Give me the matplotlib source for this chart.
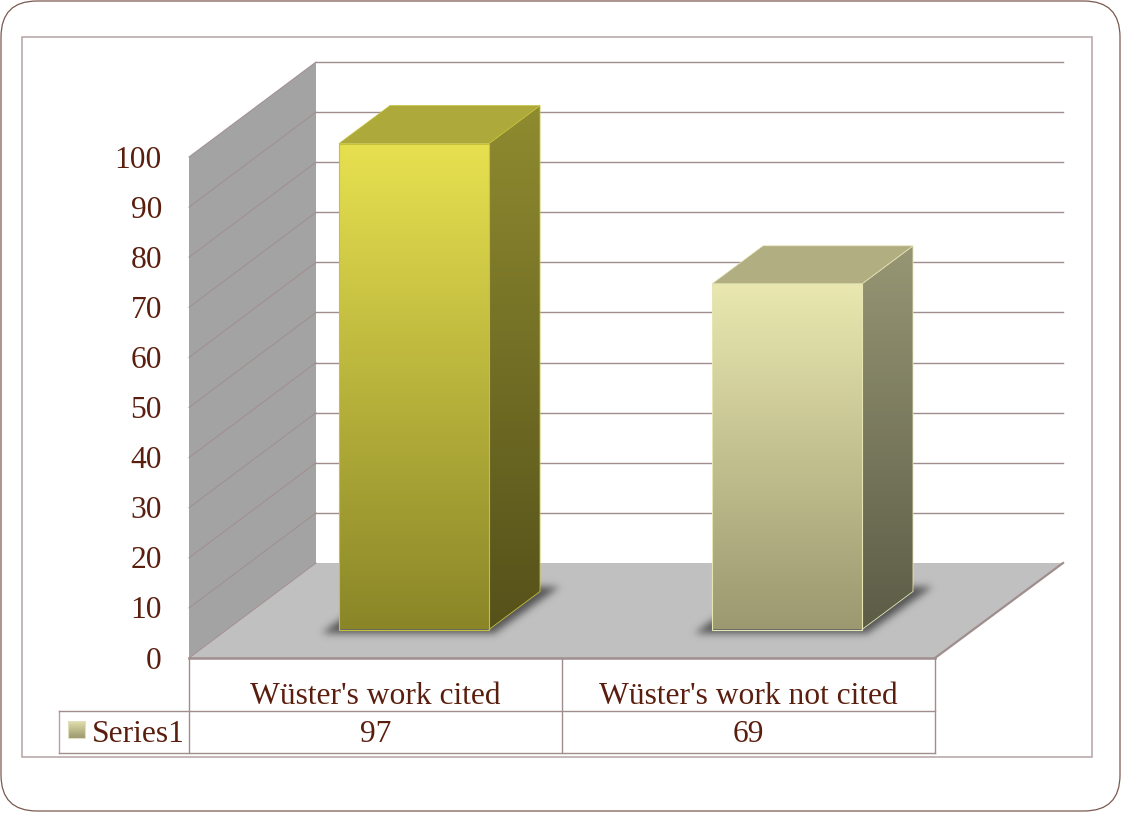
"""Recreate the 3D-look bar chart with a data table."""

import numpy as np
import matplotlib
matplotlib.use("Agg")
import matplotlib.pyplot as plt
from matplotlib.patches import FancyBboxPatch, Polygon, Rectangle

categories = ["Wüster's work cited", "Wüster's work not cited"]
values = [97, 69]
series_name = "Series1"
y_ticks = [0, 10, 20, 30, 40, 50, 60, 70, 80, 90, 100]

TEXT = "#5A1E0E"
GRID = "#A08E8E"
FRAME = "#B3A3A3"
FONT_SIZE = 22.7

# pixel layout of the fake 3D box
PX_PER_UNIT = 5.01
FRONT_Y = 658
FRONT_L, FRONT_R = 189, 935
DEPTH_X, DEPTH_Y = 127, 95
BAR_BASE_Y = 629.5
BAR_DX, BAR_DY = 51, 38
BAR_LEFT = [339, 712]
BAR_W = 150

bar_styles = [
    dict(front=("#E7E150", "#8A8628"), side=("#8F8B30", "#55511A"), top="#ADA93A", edge="#C4C23A"),
    dict(front=("#EAE8B0", "#9C9870"), side=("#979674", "#5C5C47"), top="#B1AE82", edge="#E6E6B4"),
]


def hex_rgb(c):
    return np.array(matplotlib.colors.to_rgb(c))


def gradient_poly(ax, pts, top, bottom, edge=None, z=3, lw=0.8):
    """Fill a polygon with a vertical gradient."""
    pts = np.array(pts, dtype=float)
    t = np.linspace(0, 1, 256)[:, None, None]
    img = (1 - t) * hex_rgb(top)[None, None, :] + t * hex_rgb(bottom)[None, None, :]
    ext = (pts[:, 0].min(), pts[:, 0].max(), pts[:, 1].max(), pts[:, 1].min())
    im = ax.imshow(img, extent=ext, aspect="auto", zorder=z, interpolation="bilinear")
    clip = Polygon(pts, closed=True, transform=ax.transData, fc="none", ec="none")
    ax.add_patch(clip)
    im.set_clip_path(clip)
    if edge:
        ax.add_patch(Polygon(pts, closed=True, fc="none", ec=edge, lw=lw, zorder=z + 0.1))


def draw_shadow(ax, x0, x1, y_front, dx, dy):
    """Soft drop shadow under a bar, drawn as a blurred parallelogram."""
    pad = 30
    xs = np.arange(x0 - pad, x1 + dx + pad)
    ys = np.arange(y_front - dy - pad, y_front + pad)
    xx, yy = np.meshgrid(xs, ys)
    frac = (y_front - yy) / dy
    mask = (frac >= 0) & (frac <= 1) & (xx >= x0 + frac * dx) & (xx <= x1 + frac * dx)
    kernel = np.exp(-0.5 * (np.arange(-14, 15) / 3.8) ** 2)
    kernel /= kernel.sum()
    blur = mask.astype(float)
    blur = np.apply_along_axis(lambda r: np.convolve(r, kernel, mode="same"), 0, blur)
    blur = np.apply_along_axis(lambda r: np.convolve(r, kernel, mode="same"), 1, blur)
    rgba = np.zeros(blur.shape + (4,))
    rgba[..., :3] = 0.22
    rgba[..., 3] = blur * 0.8
    ax.imshow(rgba, extent=(xs[0], xs[-1], ys[-1], ys[0]), aspect="auto", zorder=2, interpolation="bilinear")


plt.rcParams["font.family"] = ["Liberation Serif", "DejaVu Serif"]
fig = plt.figure(figsize=(11.22, 8.13), dpi=100)
ax = fig.add_axes([0, 0, 1, 1])

# outer rounded card and inner frame
ax.add_patch(FancyBboxPatch((36, 36), 1049, 740, boxstyle="round,pad=35,rounding_size=36",
                            fc="white", ec="#7A5A4E", lw=0.9, zorder=0))
ax.add_patch(Rectangle((22, 37), 1070, 720, fc="white", ec=FRAME, lw=1.1, zorder=0.5))

# wall and floor
top_front = FRONT_Y - 100 * PX_PER_UNIT
wall = [(FRONT_L, FRONT_Y), (FRONT_L + DEPTH_X, FRONT_Y - DEPTH_Y),
        (FRONT_L + DEPTH_X, top_front - DEPTH_Y), (FRONT_L, top_front)]
ax.add_patch(Polygon(wall, closed=True, fc="#A3A3A3", ec="none", zorder=1))
floor = [(FRONT_L, FRONT_Y), (FRONT_L + DEPTH_X, FRONT_Y - DEPTH_Y),
         (FRONT_R + DEPTH_X + 1, FRONT_Y - DEPTH_Y), (FRONT_R, FRONT_Y)]
ax.add_patch(Polygon(floor, closed=True, fc="#C0C0C0", ec="none", zorder=1))

# gridlines and y tick labels
for tick in y_ticks:
    y = FRONT_Y - tick * PX_PER_UNIT
    ax.plot([FRONT_L, FRONT_L + DEPTH_X], [y, y - DEPTH_Y], color=GRID, lw=0.7, zorder=1.5)
    if tick > 0:
        ax.plot([FRONT_L + DEPTH_X, FRONT_R + DEPTH_X + 1], [y - DEPTH_Y, y - DEPTH_Y], color=GRID, lw=1.0, zorder=1.5)
    ax.text(162, y + 3, str(tick), ha="right", va="center", fontsize=FONT_SIZE, color=TEXT, zorder=6)
ax.plot([FRONT_R, FRONT_R + DEPTH_X + 1], [FRONT_Y, FRONT_Y - DEPTH_Y], color=GRID, lw=1.6, zorder=1.6)
ax.plot([FRONT_L, FRONT_R], [FRONT_Y, FRONT_Y], color=GRID, lw=1.8, zorder=1.6)

# bars
for left, value, st in zip(BAR_LEFT, values, bar_styles):
    right = left + BAR_W
    top = BAR_BASE_Y - value * PX_PER_UNIT
    draw_shadow(ax, left - 17, right + 6, BAR_BASE_Y + 4, 64, 46)
    front = [(left, top), (right, top), (right, BAR_BASE_Y), (left, BAR_BASE_Y)]
    side = [(right, top), (right + BAR_DX, top - BAR_DY), (right + BAR_DX, BAR_BASE_Y - BAR_DY), (right, BAR_BASE_Y)]
    cap = [(left, top), (left + BAR_DX, top - BAR_DY), (right + BAR_DX, top - BAR_DY), (right, top)]
    gradient_poly(ax, side, st["side"][0], st["side"][1], edge=st["edge"], z=3, lw=0.6)
    ax.add_patch(Polygon(cap, closed=True, fc=st["top"], ec=st["edge"], lw=0.5, zorder=3.2))
    gradient_poly(ax, front, st["front"][0], st["front"][1], edge=st["edge"], z=3.4)

# data table
table_x = [59, FRONT_L, 562, FRONT_R]
row_y = [FRONT_Y, 711, 753]
for x in table_x[1:]:
    ax.plot([x, x], [row_y[0], row_y[2]], color=GRID, lw=1.0, zorder=4)
ax.plot([59, 59], [row_y[1], row_y[2]], color=FRAME, lw=1.0, zorder=4)
ax.plot([59, FRONT_R], [row_y[1], row_y[1]], color=GRID, lw=1.0, zorder=4)
ax.plot([59, FRONT_R], [row_y[2], row_y[2]], color=GRID, lw=1.0, zorder=4)
for i, (cat, value) in enumerate(zip(categories, values)):
    cx = (table_x[i + 1] + table_x[i + 2]) / 2
    ax.text(cx, 696, cat, ha="center", va="center", fontsize=FONT_SIZE, color=TEXT, zorder=6)
    ax.text(cx, 734, str(value), ha="center", va="center", fontsize=FONT_SIZE, color=TEXT, zorder=6)
ax.text(92, 734, series_name, ha="left", va="center", fontsize=FONT_SIZE, color=TEXT, zorder=6)
gradient_poly(ax, [(68, 721), (85, 721), (85, 738), (68, 738)], "#E2E0AA", "#9C9870", edge="#E0E0C0", z=5)

ax.set_xlim(0, 1122)
ax.set_ylim(813, 0)
ax.axis("off")
fig.savefig("out.png", dpi=100)
